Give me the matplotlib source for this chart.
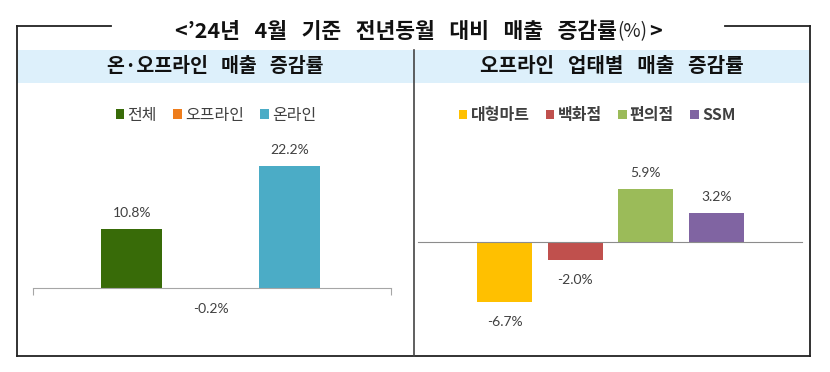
import matplotlib
matplotlib.use("Agg")
import matplotlib.pyplot as plt
from matplotlib.patches import Rectangle

# data
left_cats = ["전체", "오프라인", "온라인"]
left_vals = [10.8, -0.2, 22.2]
left_colors = ["#386b08", "#ee7d1c", "#4bacc6"]

right_cats = ["대형마트", "백화점", "편의점", "SSM"]
right_vals = [-6.7, -2.0, 5.9, 3.2]
right_colors = ["#ffc000", "#c0504d", "#9bbb59", "#8064a2"]

sp = "   "
title_main = sp.join(["<\u201924년", "4월", "기준", "전년동월", "대비", "매출", "증감률"])
left_header = sp.join(["온·오프라인", "매출", "증감률"])
right_header = sp.join(["오프라인", "업태별", "매출", "증감률"])

KR = ["Noto Sans CJK KR", "DejaVu Sans"]
NUM = ["Lato", "DejaVu Sans"]
W, H = 830, 372

fig = plt.figure(figsize=(W / 100, H / 100), dpi=100)


def px_axes(x0, y0, x1, y1):
    return fig.add_axes([x0 / W, 1 - y1 / H, (x1 - x0) / W, (y1 - y0) / H])


# background layer in pixel coords (frame, header band, titles)
bg = fig.add_axes([0, 0, 1, 1])
bg.set_xlim(0, W)
bg.set_ylim(H, 0)
bg.axis("off")
bg.add_patch(Rectangle((17, 50), 793, 33, color="#ddf0fb", lw=0))
frame = dict(color="#222222", lw=1.3, solid_capstyle="projecting")
bg.plot([17, 111], [26, 26], **frame)
bg.plot([725, 810], [26, 26], **frame)
bg.plot([17, 17], [26, 356], **frame)
bg.plot([810, 810], [26, 356], **frame)
bg.plot([17, 810], [356, 356], **frame)
bg.plot([414, 414], [50, 356], color="#444444", lw=1.2)

bg.text(617, 31, title_main, ha="right", va="center", fontsize=15.5,
        fontweight="bold", family=KR, color="#111111")
bg.text(617, 32, "(%)", ha="left", va="center", fontsize=13.5, family=KR, color="#222222")
bg.text(649, 31, ">", ha="left", va="center", fontsize=15.5, fontweight="bold",
        family=KR, color="#111111")
bg.text(215, 66, left_header, ha="center", va="center", fontsize=14,
        fontweight="bold", family=KR, color="#111111")
bg.text(612, 66, right_header, ha="center", va="center", fontsize=14.5,
        fontweight="bold", family=KR, color="#111111")


def label_bars(ax, vals):
    for i, v in enumerate(vals):
        off = 16 if v >= 0 else -20
        ax.annotate(f"{v:.1f}%", (i, v), xytext=(0, off), textcoords="offset pixels",
                    ha="center", va="center", fontsize=10, family=NUM, color="#404040")


# left chart
ax1 = px_axes(33, 135, 391, 340)
bars1 = ax1.bar(range(len(left_vals)), left_vals, width=0.77, color=left_colors)
ax1.set_xlim(-1.25, 3.28)
ax1.set_ylim(-9.45, 27.8)
for s in ["top", "left", "right"]:
    ax1.spines[s].set_visible(False)
ax1.spines["bottom"].set_position(("data", 0))
ax1.spines["bottom"].set_color("#a6a6a6")
ax1.set_xticks(ax1.get_xlim())
ax1.tick_params(axis="x", length=5, color="#a6a6a6", labelbottom=False)
ax1.set_yticks([])
ax1.patch.set_alpha(0)
label_bars(ax1, left_vals)
ax1.legend(bars1.patches, left_cats, loc="center", bbox_to_anchor=(216 / W, 1 - 115 / H),
           bbox_transform=fig.transFigure, ncol=3, frameon=False, handlelength=0.55,
           handleheight=0.55, handletextpad=0.2, columnspacing=1.0,
           prop={"family": KR, "size": 11.5}, labelcolor="#404040")

# right chart
ax2 = px_axes(418, 135, 802, 340)
bars2 = ax2.bar(range(len(right_vals)), right_vals, width=0.78, color=right_colors)
ax2.set_xlim(-1.224, 4.21)
ax2.set_ylim(-10.95, 11.96)
for s in ["top", "left", "right"]:
    ax2.spines[s].set_visible(False)
ax2.spines["bottom"].set_position(("data", 0))
ax2.spines["bottom"].set_color("#8c8c8c")
ax2.set_xticks([])
ax2.set_yticks([])
ax2.patch.set_alpha(0)
label_bars(ax2, right_vals)
ax2.legend(bars2.patches, right_cats, loc="center", bbox_to_anchor=(597 / W, 1 - 115 / H),
           bbox_transform=fig.transFigure, ncol=4, frameon=False, handlelength=0.55,
           handleheight=0.55, handletextpad=0.2, columnspacing=1.0,
           prop={"family": KR, "size": 11.5, "weight": "bold"}, labelcolor="#404040")

fig.savefig("out.png", dpi=100)
